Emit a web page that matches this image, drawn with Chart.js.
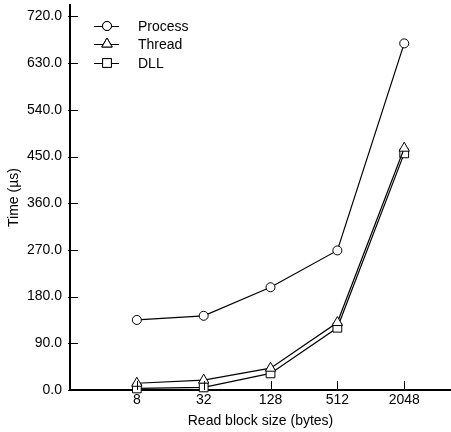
<!DOCTYPE html>
<html>
<head>
<meta charset="utf-8">
<script src="https://cdn.jsdelivr.net/npm/chart.js@4"></script>
<style>
  html, body { margin: 0; padding: 0; background: #fff; }
  canvas { display: block; }
</style>
</head>
<body>
<canvas id="timeChart" width="451" height="432"></canvas>
<script>
// Read block sizes on the x axis (evenly spaced, log2 steps)
const blockSizes = ['8', '32', '128', '512', '2048'];

// Time (us) per read block size
const processTimes = [135, 143, 198, 269, 668];
const threadTimes = [13, 19, 42, 130, 466];
const dllTimes = [3, 5, 32, 120, 456];

const seriesNames = ['Process', 'Thread', 'DLL'];
const yTicks = [0, 90, 180, 270, 360, 450, 540, 630, 720];

const FONT = '"Liberation Sans", Arial, Helvetica, sans-serif';
const FONT_SIZE = 14;

function toPoints(values) {
    return values.map((v, i) => ({ x: i + 1, y: v }));
}

// Draw tick marks pointing into the plot, like the original
const inwardTicks = {
    id: 'inwardTicks',
    afterDraw(chart) {
        const ctx = chart.ctx;
        const xs = chart.scales.x;
        const ys = chart.scales.y;
        ctx.save();
        ctx.strokeStyle = '#000';
        ctx.lineWidth = 1;
        ys.ticks.forEach((t, i) => {
            const py = Math.round(ys.getPixelForTick(i)) + 0.5;
            ctx.beginPath();
            ctx.moveTo(ys.right - 2, py);
            ctx.lineTo(ys.right + 8, py);
            ctx.stroke();
        });
        xs.ticks.forEach((t, i) => {
            const px = Math.round(xs.getPixelForTick(i)) + 0.5;
            ctx.beginPath();
            ctx.moveTo(px, xs.top);
            ctx.lineTo(px, xs.top - 9);
            ctx.stroke();
        });
        ctx.restore();
    }
};

// Legend with line + marker sample, drawn inside the plot at top left
const lineLegend = {
    id: 'lineLegend',
    afterDraw(chart) {
        const ctx = chart.ctx;
        ctx.save();
        ctx.font = FONT_SIZE + 'px ' + FONT;
        ctx.textBaseline = 'middle';
        ctx.fillStyle = '#000';
        const rowY = [26, 44, 63];
        chart.data.datasets.forEach((ds, i) => {
            const y = rowY[i];
            ctx.strokeStyle = '#000';
            ctx.lineWidth = 1;
            ctx.beginPath();
            ctx.moveTo(94, y + 0.5);
            ctx.lineTo(119, y + 0.5);
            ctx.stroke();
            Chart.helpers.drawPoint(ctx, {
                pointStyle: ds.pointStyle,
                radius: ds.pointRadius,
                borderWidth: 1
            }, 107, y);
            ctx.fillStyle = '#fff';
            ctx.fill();
            ctx.stroke();
            ctx.fillStyle = '#000';
            ctx.fillText(ds.label, 138, y + 1);
        });
        ctx.restore();
    }
};

function makeDataset(label, values, style, radius) {
    return {
        label: label,
        data: toPoints(values),
        borderColor: '#000',
        borderWidth: 1.2,
        backgroundColor: '#fff',
        pointStyle: style,
        pointRadius: radius,
        pointBorderWidth: 1,
        pointBackgroundColor: '#fff',
        pointBorderColor: '#000',
        tension: 0,
        clip: false
    };
}

new Chart(document.getElementById('timeChart'), {
    type: 'line',
    data: {
        datasets: [
            makeDataset(seriesNames[0], processTimes, 'circle', 4.5),
            makeDataset(seriesNames[1], threadTimes, 'triangle', 6),
            makeDataset(seriesNames[2], dllTimes, 'rect', 6.2)
        ]
    },
    options: {
        responsive: false,
        animation: false,
        layout: { autoPadding: false, padding: { top: 5, right: 0, left: 0, bottom: 0 } },
        plugins: {
            legend: { display: false },
            tooltip: { enabled: false }
        },
        scales: {
            x: {
                type: 'linear',
                min: 0,
                max: 5.7,
                afterBuildTicks(scale) {
                    scale.ticks = blockSizes.map((_, i) => ({ value: i + 1 }));
                },
                afterFit(scale) {
                    scale.height = 42;
                    scale.paddingLeft = 0;
                    scale.paddingRight = 0;
                },
                grid: { display: false, drawTicks: false },
                border: { display: true, color: '#000', width: 2 },
                ticks: {
                    color: '#000',
                    font: { family: FONT, size: FONT_SIZE },
                    padding: 2,
                    maxRotation: 0,
                    callback: (v) => blockSizes[v - 1] || ''
                },
                title: {
                    display: true,
                    text: 'Read block size (bytes)',
                    color: '#000',
                    font: { family: FONT, size: FONT_SIZE },
                    padding: { top: 0, bottom: 2 }
                }
            },
            y: {
                min: 0,
                max: 742,
                afterBuildTicks(scale) {
                    scale.ticks = yTicks.map(v => ({ value: v }));
                },
                afterFit(scale) {
                    scale.width = 70;
                    scale.paddingTop = 0;
                    scale.paddingBottom = 0;
                },
                grid: { display: false, drawTicks: false },
                border: { display: true, color: '#000', width: 2 },
                ticks: {
                    color: '#000',
                    font: { family: FONT, size: FONT_SIZE },
                    padding: 8,
                    callback: (v) => v.toFixed(1)
                },
                title: {
                    display: true,
                    text: 'Time (µs)',
                    color: '#000',
                    font: { family: FONT, size: FONT_SIZE },
                    padding: { top: 6, bottom: 0 }
                }
            }
        }
    },
    plugins: [inwardTicks, lineLegend]
});
</script>
</body>
</html>
